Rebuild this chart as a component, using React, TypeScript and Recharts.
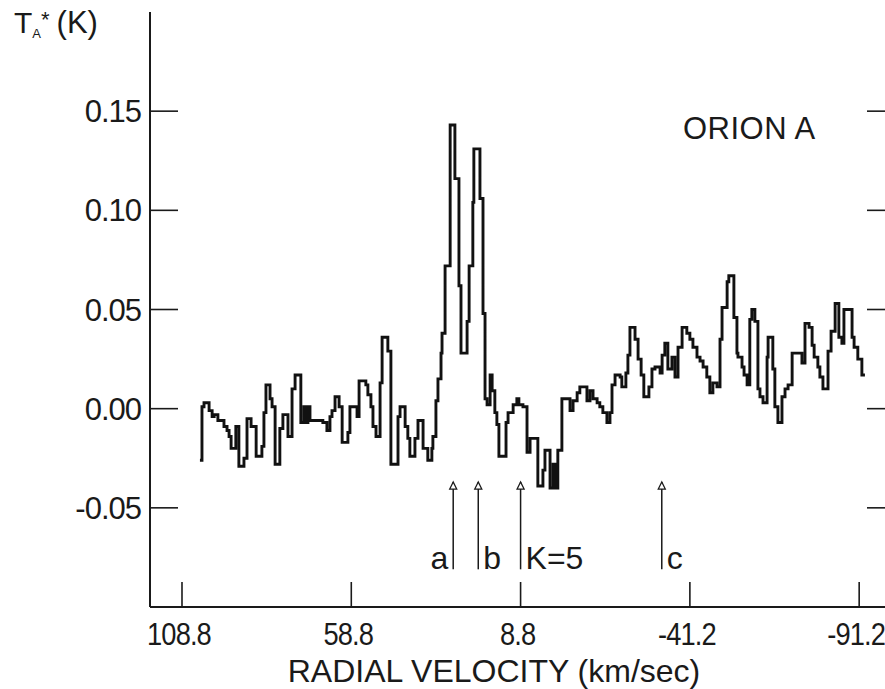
import React from 'react';
import { ComposedChart, Line, XAxis, YAxis, ReferenceLine } from 'recharts';

// radial velocity (km/s), left edge of each channel
const velocity = [
  103.5, 102.9, 102.3, 100.8, 99.9, 99.3, 98.2, 97.3, 96.4, 95.5, 94.9, 94.3, 92.9, 92.0, 90.5, 89.6,
  88.4, 86.9, 85.2, 84.6, 84.0, 82.8, 82.2, 81.3, 79.9, 79.0, 77.5, 76.3, 75.4, 73.7, 72.8, 72.2,
  71.6, 71.0, 68.6, 67.2, 66.0, 65.1, 64.5, 63.6, 62.4, 61.5, 59.8, 59.2, 57.1, 56.5, 54.5, 53.9,
  53.0, 52.4, 51.5, 50.3, 49.7, 48.0, 47.1, 45.0, 44.4, 42.9, 42.1, 41.5, 40.0, 39.1, 37.6, 36.2,
  35.0, 34.7, 33.8, 33.2, 32.3, 32.0, 31.1, 29.6, 28.2, 27.0, 26.4, 24.6, 24.0, 22.9, 22.6, 20.8,
  19.9, 19.3, 18.7, 17.8, 17.2, 16.4, 15.8, 15.2, 13.1, 12.5, 11.0, 9.9, 9.3, 8.1, 6.9, 6.0,
  3.7, 2.2, 1.6, 0.1, -0.8, -1.4, -2.2, -3.4, -5.8, -6.7, -7.9, -8.7, -10.8, -11.7, -12.6, -13.8,
  -14.6, -15.5, -16.7, -17.6, -18.2, -19.1, -20.6, -21.1, -22.3, -22.9, -23.5, -25.0, -25.9, -26.8, -27.6, -29.1,
  -30.0, -30.9, -32.4, -33.0, -33.8, -34.7, -35.9, -36.8, -37.7, -38.9, -40.3, -41.2, -42.1, -43.3, -44.2, -45.1,
  -46.2, -47.1, -48.0, -49.2, -50.1, -50.7, -52.2, -52.7, -54.2, -55.1, -55.4, -56.6, -57.2, -58.1, -58.9, -59.5,
  -60.4, -61.3, -61.9, -62.8, -64.0, -64.3, -65.7, -66.3, -67.2, -68.4, -69.3, -70.2, -71.4, -74.3, -75.2, -76.4,
  -77.3, -77.9, -79.0, -79.6, -80.5, -82.0, -82.9, -84.1, -85.2, -86.1, -86.7, -89.1, -89.7, -90.8, -92.0, -92.9,
];

// antenna temperature TA* (K)
const ta = [
  -0.026, 0.001, 0.003, -0.001, -0.004, -0.003, -0.006, -0.006, -0.009, -0.011, -0.014, -0.02, -0.009, -0.029, -0.025, -0.005,
  -0.009, -0.024, -0.019, -0.002, 0.012, 0.005, 0.001, -0.028, -0.01, -0.003, -0.014, 0.01, 0.017, -0.007, 0.001, -0.007,
  0.001, -0.006, -0.006, -0.007, -0.011, -0.004, -0.001, 0.006, 0.001, -0.017, -0.012, 0.001, -0.004, 0.014, 0.012, 0.007,
  0.001, -0.009, -0.014, 0.013, 0.036, 0.029, -0.028, -0.004, 0.001, -0.009, -0.015, -0.024, -0.015, -0.006, -0.02, -0.026,
  -0.02, -0.014, 0.004, 0.015, 0.028, 0.038, 0.072, 0.143, 0.116, 0.062, 0.028, 0.044, 0.072, 0.104, 0.131, 0.106,
  0.048, 0.005, 0.002, 0.017, 0.009, -0.002, -0.008, -0.024, -0.007, -0.002, 0.002, 0.005, 0.002, 0.001, -0.022, -0.015,
  -0.039, -0.031, -0.021, -0.04, -0.028, -0.04, -0.021, 0.005, -0.001, 0.004, 0.008, 0.011, 0.004, 0.009, 0.005, 0.003,
  0.001, -0.002, -0.007, -0.002, 0.012, 0.017, 0.016, 0.011, 0.018, 0.027, 0.041, 0.035, 0.025, 0.017, 0.006, 0.011,
  0.02, 0.021, 0.018, 0.027, 0.033, 0.02, 0.026, 0.016, 0.031, 0.041, 0.038, 0.035, 0.031, 0.026, 0.024, 0.021,
  0.016, 0.008, 0.013, 0.011, 0.035, 0.051, 0.064, 0.067, 0.046, 0.028, 0.026, 0.021, 0.017, 0.012, 0.045, 0.05,
  0.044, 0.01, 0.006, 0.003, 0.026, 0.036, 0.02, 0.001, -0.007, 0.006, 0.01, 0.012, 0.028, 0.023, 0.043, 0.041,
  0.032, 0.026, 0.021, 0.016, 0.01, 0.029, 0.039, 0.053, 0.036, 0.033, 0.05, 0.036, 0.031, 0.025, 0.017, 0.017,
];

const xTicks = [108.8, 58.8, 8.8, -41.2, -91.2];
const yTicks = [-0.05, 0, 0.05, 0.1, 0.15];

// marked transitions
const arrowVel = [28.7, 21.3, 8.8, -32.9];
const arrowLabels = ['a', 'b', 'K=5', 'c'];
const arrowSide = ['left', 'right', 'right', 'right'];
const arrowTop = -0.037;
const arrowBottom = -0.081;

const data = velocity.map((v, i) => ({ v, t: ta[i] }));

const FONT = '"Liberation Sans", Arial, Helvetica, sans-serif';
const INK = '#1a1a1a';

const BottomTick = (props: any) => {
  const { x, y, payload } = props;
  return (
    <g>
      <line x1={x} y1={y} x2={x} y2={y - 25} stroke={INK} strokeWidth={1.6} />
      <text
        transform={`translate(${x - 3},${y + 38}) scale(0.88,1)`}
        textAnchor="middle"
        fontSize={31}
        letterSpacing={-1}
        fill={INK}
        fontFamily={FONT}
      >
        {Number(payload.value).toFixed(1)}
      </text>
    </g>
  );
};

const TopTick = (props: any) => {
  const { x, y } = props;
  return <line x1={x} y1={y} x2={x} y2={y + 28} stroke={INK} strokeWidth={1.6} />;
};

const LeftTick = (props: any) => {
  const { x, y, payload } = props;
  return (
    <g>
      <line x1={x} y1={y} x2={x + 28} y2={y} stroke={INK} strokeWidth={1.6} />
      <text x={x - 9} y={y + 11} textAnchor="end" fontSize={31} letterSpacing={-1} fill={INK} fontFamily={FONT}>
        {Number(payload.value).toFixed(2)}
      </text>
    </g>
  );
};

const RightTick = (props: any) => {
  const { x, y } = props;
  return <line x1={x} y1={y} x2={x - 24} y2={y} stroke={INK} strokeWidth={1.6} />;
};

const arrowShape = (i: number) => (p: any) => {
  const x = p.x1;
  const top = Math.min(p.y1, p.y2);
  const bottom = Math.max(p.y1, p.y2);
  const left = arrowSide[i] === 'left';
  return (
    <g>
      <line x1={x} y1={top} x2={x} y2={bottom} stroke={INK} strokeWidth={1.5} />
      <path d={`M${x},${top} L${x - 3.5},${top + 7} L${x + 3.5},${top + 7} Z`} fill="#fff" stroke={INK} strokeWidth={1.3} />
      <text
        x={left ? x - 5 : x + 5}
        y={bottom}
        textAnchor={left ? 'end' : 'start'}
        fontSize={32}
        fill={INK}
        fontFamily={FONT}
      >
        {arrowLabels[i]}
      </text>
    </g>
  );
};

export default function App() {
  return (
    <div style={{ position: 'absolute', left: 0, top: 0, width: 885, height: 689, overflow: 'hidden', background: '#fff' }}>
      <ComposedChart width={900} height={689} data={data} margin={{ top: 12, right: 0, bottom: 0, left: 0 }}>
        <XAxis
          dataKey="v"
          type="number"
          domain={[-100.6, 118.25]}
          reversed
          allowDataOverflow
          ticks={xTicks}
          tickSize={0}
          tickMargin={0}
          tick={BottomTick}
          axisLine={{ stroke: INK, strokeWidth: 2 }}
          height={82}
        />
        <XAxis
          xAxisId="top"
          orientation="top"
          type="number"
          domain={[-100.6, 118.25]}
          reversed
          allowDataOverflow
          ticks={xTicks}
          tickSize={0}
          tickMargin={0}
          tick={TopTick}
          axisLine={{ stroke: INK, strokeWidth: 2 }}
          height={0}
        />
        <YAxis
          type="number"
          domain={[-0.1, 0.2]}
          allowDataOverflow
          ticks={yTicks}
          tickSize={0}
          tickMargin={0}
          tick={LeftTick}
          axisLine={{ stroke: INK, strokeWidth: 2 }}
          width={150}
        />
        <YAxis
          yAxisId="r"
          orientation="right"
          type="number"
          domain={[-0.1, 0.2]}
          allowDataOverflow
          ticks={yTicks}
          tickSize={0}
          tickMargin={0}
          tick={RightTick}
          axisLine={{ stroke: INK, strokeWidth: 2 }}
          width={9}
        />
        <Line
          dataKey="t"
          type="stepAfter"
          stroke="#111"
          strokeWidth={2.9}
          dot={false}
          activeDot={false}
          isAnimationActive={false}
        />
        {arrowVel.map((v, i) => (
          <ReferenceLine
            key={arrowLabels[i]}
            segment={[
              { x: v, y: arrowBottom },
              { x: v, y: arrowTop },
            ]}
            shape={arrowShape(i)}
          />
        ))}
        <text x={494} y={682} textAnchor="middle" fontSize={32} fill={INK} fontFamily={FONT}>
          RADIAL VELOCITY (km/sec)
        </text>
        <text x={683} y={139} fontSize={31} fill={INK} fontFamily={FONT} letterSpacing={0.5}>
          ORION A
        </text>
        <text x={14} y={33} fontSize={30} fill={INK} fontFamily={FONT}>
          T
          <tspan fontSize={13} dy={5}>A</tspan>
          <tspan fontSize={22} dy={-11}>*</tspan>
          <tspan fontSize={31} dy={6} dx={7}>(K)</tspan>
        </text>
      </ComposedChart>
    </div>
  );
}
